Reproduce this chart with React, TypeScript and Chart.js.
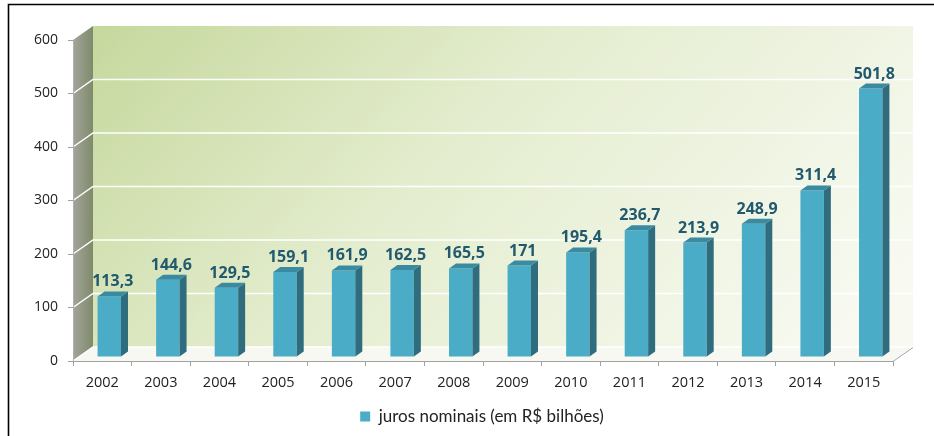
import React, { useEffect, useRef } from 'react';
import { Chart, registerables } from 'chart.js';

Chart.register(...registerables);

const years = ['2002', '2003', '2004', '2005', '2006', '2007', '2008', '2009', '2010', '2011', '2012', '2013', '2014', '2015'];
const juros = [113.3, 144.6, 129.5, 159.1, 161.9, 162.5, 165.5, 171, 195.4, 236.7, 213.9, 248.9, 311.4, 501.8];
const valueLabels = ['113,3', '144,6', '129,5', '159,1', '161,9', '162,5', '165,5', '171', '195,4', '236,7', '213,9', '248,9', '311,4', '501,8'];
const yTicks = [0, 100, 200, 300, 400, 500, 600];
const seriesName = 'juros nominais (em R$ bilhões)';

const WALL_DX = 20;
const WALL_DY = -14;
const BAR_SHIFT_X = 7;
const BAR_SHIFT_Y = -4;
const BAR_DX = 7;
const BAR_DY = -5;
const LEGEND_CENTER_X = 482;

const wallsPlugin = {
  id: 'walls3d',
  afterLayout(chart: any) {
    const lg = chart.legend;
    if (!lg || !lg.lineWidths || !lg.lineWidths.length) return;
    const pad = lg.options.labels.padding || 10;
    const lw = lg.lineWidths[0];
    const curStart = (lg.left + pad + lg.right - lw) / 2;
    const wantStart = LEGEND_CENTER_X - (lw - pad) / 2;
    const shift = wantStart - curStart;
    lg.left += shift;
    lg.right += shift;
  },
  beforeDraw(chart: any) {
    const { ctx, chartArea } = chart;
    const { left, right, top, bottom } = chartArea;
    const y = chart.scales.y;
    ctx.save();
    ctx.fillStyle = '#ffffff';
    ctx.fillRect(0, 0, chart.width, chart.height);

    // back wall
    const bw = ctx.createLinearGradient(left + WALL_DX, top + WALL_DY, right + WALL_DX - 250, bottom + WALL_DY + 200);
    bw.addColorStop(0, '#c6d89d');
    bw.addColorStop(0.45, '#e4edcf');
    bw.addColorStop(1, '#f8faf2');
    ctx.fillStyle = bw;
    ctx.fillRect(left + WALL_DX, top + WALL_DY, right - left, bottom - top);

    // left wall
    const lw = ctx.createLinearGradient(left, 0, left + WALL_DX, 0);
    lw.addColorStop(0, '#a2a59b');
    lw.addColorStop(1, '#7f8a6a');
    ctx.fillStyle = lw;
    ctx.beginPath();
    ctx.moveTo(left, bottom);
    ctx.lineTo(left, top);
    ctx.lineTo(left + WALL_DX, top + WALL_DY);
    ctx.lineTo(left + WALL_DX, bottom + WALL_DY);
    ctx.closePath();
    ctx.fill();

    // floor
    ctx.fillStyle = '#f6f8f1';
    ctx.beginPath();
    ctx.moveTo(left, bottom);
    ctx.lineTo(right, bottom);
    ctx.lineTo(right + WALL_DX, bottom + WALL_DY);
    ctx.lineTo(left + WALL_DX, bottom + WALL_DY);
    ctx.closePath();
    ctx.fill();

    // grid lines
    ctx.strokeStyle = '#ffffff';
    ctx.lineWidth = 1.5;
    yTicks.forEach((v) => {
      if (v === 600) return;
      const yF = y.getPixelForValue(v);
      ctx.beginPath();
      ctx.moveTo(left, yF);
      ctx.lineTo(left + WALL_DX, yF + WALL_DY);
      ctx.lineTo(right + WALL_DX, yF + WALL_DY);
      ctx.stroke();
    });

    // floor right edge
    ctx.strokeStyle = '#a6a6a6';
    ctx.lineWidth = 1;
    ctx.beginPath();
    ctx.moveTo(right, bottom + 0.5);
    ctx.lineTo(right + WALL_DX, bottom + WALL_DY + 0.5);
    ctx.stroke();
    ctx.restore();
  },
  beforeDatasetsDraw(chart: any) {
    chart.ctx.save();
    chart.ctx.translate(BAR_SHIFT_X, BAR_SHIFT_Y);
  },
  afterDatasetsDraw(chart: any) {
    const { ctx } = chart;
    const meta = chart.getDatasetMeta(0);
    meta.data.forEach((bar: any, i: number) => {
      const p = bar.getProps(['x', 'y', 'base', 'width'], true);
      const l = p.x - p.width / 2;
      const r = p.x + p.width / 2;
      // side
      ctx.fillStyle = '#2f6d7e';
      ctx.beginPath();
      ctx.moveTo(r, p.base);
      ctx.lineTo(r, p.y);
      ctx.lineTo(r + BAR_DX, p.y + BAR_DY);
      ctx.lineTo(r + BAR_DX, p.base + BAR_DY);
      ctx.closePath();
      ctx.fill();
      // top
      ctx.fillStyle = '#3a8aa1';
      ctx.beginPath();
      ctx.moveTo(l, p.y);
      ctx.lineTo(r, p.y);
      ctx.lineTo(r + BAR_DX, p.y + BAR_DY);
      ctx.lineTo(l + BAR_DX, p.y + BAR_DY);
      ctx.closePath();
      ctx.fill();
      // label
      ctx.fillStyle = '#215a6e';
      ctx.font = 'bold 16px "Open Sans"';
      ctx.textAlign = 'center';
      ctx.textBaseline = 'alphabetic';
      ctx.fillText(valueLabels[i], p.x + BAR_DX / 2, p.y + BAR_DY - 5);
    });
    ctx.restore();
  },
  afterDraw(chart: any) {
    const { ctx } = chart;
    ctx.save();
    ctx.strokeStyle = '#000000';
    ctx.lineWidth = 1.6;
    ctx.beginPath();
    ctx.moveTo(8.5, chart.height);
    ctx.lineTo(8.5, 4.5);
    ctx.lineTo(chart.width, 4.5);
    ctx.stroke();
    ctx.restore();
  },
};

export default function App() {
  const ref = useRef<HTMLCanvasElement | null>(null);
  useEffect(() => {
    if (!ref.current) return;
    const chart = new Chart(ref.current, {
      type: 'bar',
      data: {
        labels: years,
        datasets: [
          {
            label: seriesName,
            data: juros,
            backgroundColor: '#4aacc6',
            borderWidth: 0,
            categoryPercentage: 1,
            barPercentage: 0.4,
            clip: false as any,
          },
        ],
      },
      options: {
        responsive: false,
        animation: false,
        devicePixelRatio: 1,
        layout: { padding: { top: 40, right: 41, bottom: 1, left: 0 } },
        plugins: {
          tooltip: { enabled: false },
          legend: {
            position: 'bottom',
            labels: {
              boxWidth: 10,
              boxHeight: 10,
              padding: 10,
              color: '#222222',
              font: { family: 'Lato', size: 17 },
            },
          },
        },
        scales: {
          x: {
            offset: true,
            grid: { offset: true, drawOnChartArea: false, drawTicks: true, tickLength: 5, color: '#a0a0a0' },
            border: { display: true, color: '#a0a0a0' },
            ticks: { color: '#222222', font: { family: '"Open Sans"', size: 14.5 }, padding: 8, maxRotation: 0 },
            afterFit: (s: any) => { s.height = 37; },
          },
          y: {
            min: 0,
            max: 600,
            afterBuildTicks: (s: any) => { s.ticks = yTicks.map((v) => ({ value: v })); },
            grid: { drawOnChartArea: false, drawTicks: true, tickLength: 5, color: '#a0a0a0' },
            border: { display: true, color: '#b0b0b0' },
            ticks: { color: '#222222', font: { family: '"Open Sans"', size: 14 }, padding: 10 },
            afterFit: (s: any) => { s.width = 73; },
          },
        },
      },
      plugins: [wallsPlugin],
    });
    return () => chart.destroy();
  }, []);
  return (
    <div style={{ position: 'fixed', left: 0, top: 0, width: 934, height: 436 }}>
      <canvas ref={ref} width={934} height={436} />
    </div>
  );
}
